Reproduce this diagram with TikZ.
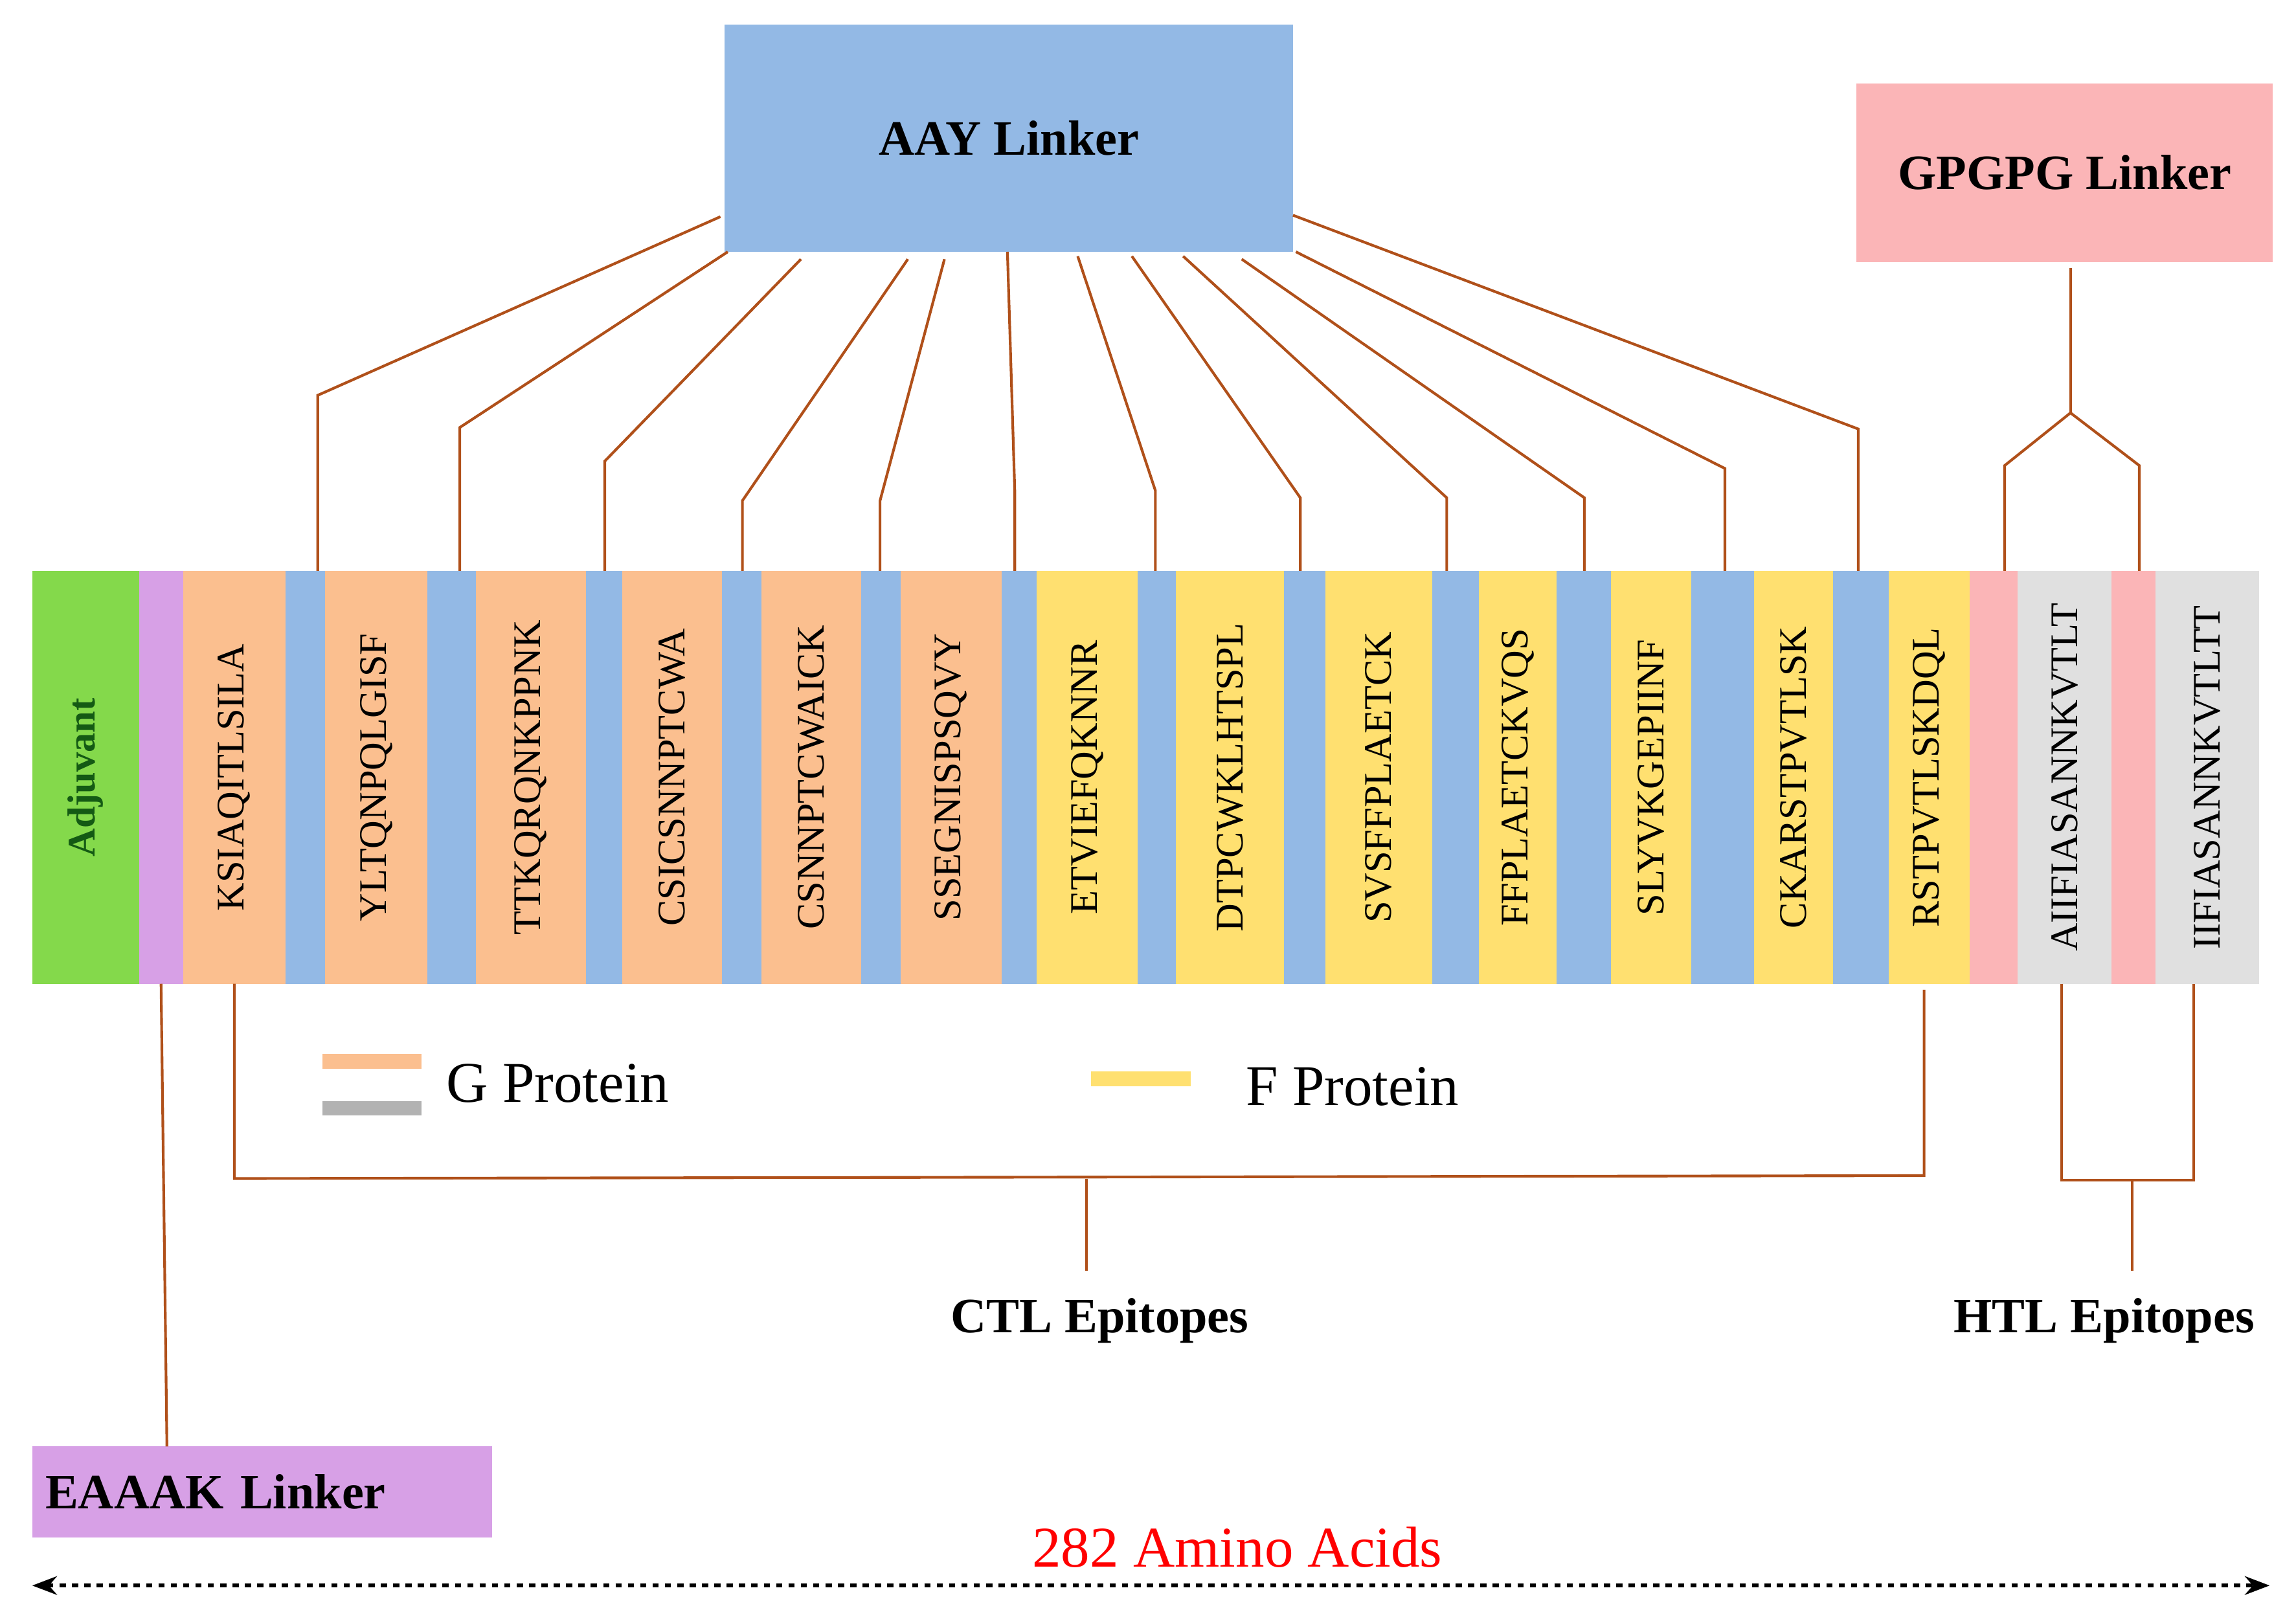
\documentclass[tikz,border=0pt]{standalone}
\usepackage{fontspec}
\setmainfont{Liberation Serif}
\usetikzlibrary{positioning,arrows.meta}
\definecolor{gprot}{HTML}{FBBF8F}
\definecolor{fprot}{HTML}{FFE070}
\definecolor{aay}{HTML}{93B9E5}
\definecolor{gpg}{HTML}{FBB5B7}
\definecolor{htl}{HTML}{E0E0E0}
\definecolor{adj}{HTML}{84D94B}
\definecolor{eaaak}{HTML}{D7A0E6}
\definecolor{wirecol}{HTML}{B0501A}
\tikzset{
	pep/.style={rotate=90, font=\fontsize{19}{19}\selectfont},
	lab/.style={font=\fontsize{24}{24}\selectfont\bfseries},
	conn/.style={draw=wirecol, line width=1.3pt},
}
\begin{document}
\begin{tikzpicture}[x=0.025cm, y=-0.025cm]
	
	% ------------------------------------------------
	% Page size
	\useasboundingbox (0,0) rectangle (1568,1107);
	
	% ------------------------------------------------
	% Segments of the construct
	\foreach \xa/\xb/\col/\name/\txt in {
		22/95/adj/Adj/{}, 95/125/eaaak/Ea/{},
		125/195/gprot/P1/KSIAQITLSILA, 195/222/aay/L1/{},
		222/292/gprot/P2/YLTQNPQLGISF, 292/325/aay/L2/{},
		325/400/gprot/P3/TTKQRQNKPPNK, 400/425/aay/L3/{},
		425/493/gprot/P4/CSICSNNPTCWA, 493/520/aay/L4/{},
		520/588/gprot/P5/CSNNPTCWAICK, 588/615/aay/L5/{},
		615/684/gprot/P6/SSEGNISPSQVY, 684/708/aay/L6/{},
		708/777/fprot/P7/ETVIEFQKNNR, 777/803/aay/L7/{},
		803/877/fprot/P8/DTPCWKLHTSPL, 877/905/aay/L8/{},
		905/978/fprot/P9/SVSFFPLAETCK, 978/1010/aay/L9/{},
		1010/1063/fprot/P10/FFPLAETCKVQS, 1063/1100/aay/L10/{},
		1100/1155/fprot/P11/SLYVKGEPIINF, 1155/1198/aay/L11/{},
		1198/1252/fprot/P12/CKARSTPVTLSK, 1252/1290/aay/L12/{},
		1290/1345/fprot/P13/RSTPVTLSKDQL, 1345/1378/gpg/G1/{},
		1378/1442/htl/H1/AIIFIASANNKVTLT, 1442/1472/gpg/G2/{},
		1472/1543/htl/H2/IIFIASANNKVTLTT}{
		\fill[\col] (\xa,390) rectangle (\xb,672);
		\node[pep] (\name) at ({(\xa+\xb)/2},531) {\txt};
	}
	\node[pep, font=\fontsize{19}{19}\selectfont\bfseries, text={rgb,255:red,20;green,90;blue,20}] (AdjText) at (Adj) {Adjuvant};
	
	% ----------------
	% Linker boxes
	\node[lab, fill=aay, minimum width=9.7cm, minimum height=3.875cm] (AAY) at (689,94.5) {AAY Linker};
	\node[lab, fill=gpg, minimum width=7.1cm, minimum height=3.05cm] (GPG) at (1410,118) {GPGPG Linker};
	\node[lab, fill=eaaak, minimum width=7.85cm, minimum height=1.55cm, text width=7.4cm] (EAK) at (179,1019) {EAAAK Linker};
	
	% ----------------
	% AAY connectors
	\foreach \i/\sx/\sy/\vx/\vy/\bx in {
		1/492/148/217/270/217, 2/497/172/314/292/314, 3/547/177/413/315/413,
		4/620/177/507/342/507, 5/645/177/601/342/601, 6/688/172/693/335/693,
		7/736/175/789/335/789, 8/773/175/888/340/888, 9/808/175/988/340/988,
		10/848/177/1082/340/1082, 11/885/172/1178/320/1178, 12/883/147/1269/293/1269}{
		\coordinate (A\i) at (\sx,\sy);
		\coordinate (V\i) at (\vx,\vy);
		\coordinate (B\i) at (\bx,390);
		\draw[conn] (A\i) -- (V\i) -- (B\i);
	}
	
	% ----------------
	% GPGPG connectors
	\coordinate (GV) at (1414,282);
	\draw[conn] (1414,183) -- (GV);
	\draw[conn] (GV) -- (1369,318) -- (1369,390);
	\draw[conn] (GV) -- (1461,318) -- (1461,390);
	
	% ----------------
	% Epitope brackets
	\node[lab] (CTL) at (751,902) {CTL Epitopes};
	\node[lab] (HTL) at (1437,902) {HTL Epitopes};
	\draw[conn] (160,672) -- (160,805) -- (1314,803) -- (1314,676);
	\draw[conn] (742,805) -- (742,868);
	\draw[conn] (1408,672) -- (1408,806) -- (1498,806) -- (1498,672);
	\draw[conn] (1456,806) -- (1456,868);
	\draw[conn] (110,672) -- (114,988);
	
	% ----------------
	% Legend
	\fill[gprot] (220,720) rectangle (288,730);
	\fill[black!30] (220,752) rectangle (288,762);
	\node[anchor=west, font=\fontsize{28}{28}\selectfont] (GLeg) at (300,740) {G Protein};
	\fill[fprot] (745,732) rectangle (813,742);
	\node[anchor=west, font=\fontsize{28}{28}\selectfont] (FLeg) at (846,742) {F Protein};
	
	% ----------------
	% Length
	\coordinate (LBeg) at (22,1083);
	\coordinate (LEnd) at (1550,1083);
	\draw[line width=2pt, dashed, {Stealth[length=12pt]}-{Stealth[length=12pt]}] (LBeg) -- (LEnd);
	\node[red, font=\fontsize{28}{28}\selectfont] (Len) at (845,1057) {282 Amino Acids};
	
\end{tikzpicture}
\end{document}
